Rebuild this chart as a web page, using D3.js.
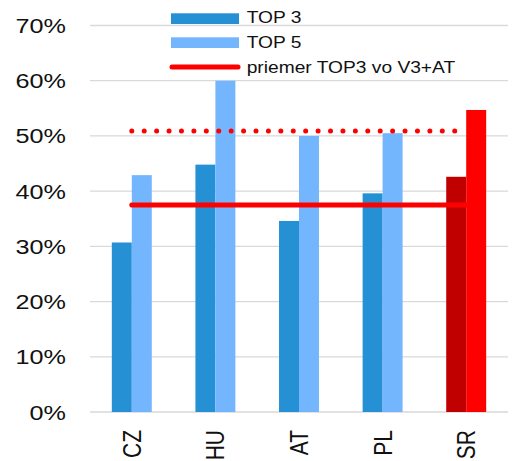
<!DOCTYPE html>
<html>
<head>
<meta charset="utf-8">
<script src="https://cdn.jsdelivr.net/npm/d3@7"></script>
<style>
  html, body { margin: 0; padding: 0; background: #fff; }
  svg { display: block; }
  text { font-family: "Liberation Sans", Arial, Helvetica, sans-serif; fill: #111; }
</style>
</head>
<body>
<svg id="chart" width="515" height="461"></svg>
<script>
// Country codes along the x axis
const categories = ["CZ", "HU", "AT", "PL", "SR"];
// Share of TOP 3 and TOP 5
const top3 = [0.307, 0.448, 0.346, 0.396, 0.426];
const top5 = [0.429, 0.600, 0.500, 0.505, 0.547];
// Reference averages drawn as horizontal lines
const avgTop3 = 0.375;   // priemer TOP3 vo V3+AT (solid)
const avgTop5 = 0.509;   // dotted line
// Y axis ticks
const yTicks = [0, 0.1, 0.2, 0.3, 0.4, 0.5, 0.6, 0.7];
const seriesNames = ["TOP 3", "TOP 5"];
const legendLabels = ["TOP 3", "TOP 5", "priemer TOP3 vo V3+AT"];

const colors = {
  top3: "#2690D4",
  top5: "#74B6FE",
  srTop3: "#C00000",
  srTop5: "#FF0000",
  line: "#FF0000",
  grid: "#D9D9D9"
};
const stretch = 1.2; // horizontal text stretch

const svg = d3.select("#chart");
const plotLeft = 90, plotRight = 508, plotTop = 25.5, plotBottom = 412;

const x0 = d3.scaleBand().domain(categories).range([plotLeft, plotRight])
  .paddingInner(0.522).paddingOuter(0.261);
const x1 = d3.scaleBand().domain(seriesNames).range([0, x0.bandwidth()]);
const y = d3.scaleLinear().domain([0, 0.7]).range([plotBottom, plotTop]);

// Gridlines
svg.append("g").selectAll("line").data(yTicks).join("line")
  .attr("x1", plotLeft).attr("x2", plotRight)
  .attr("y1", d => y(d)).attr("y2", d => y(d))
  .attr("stroke", colors.grid).attr("stroke-width", 1.3);

// Y tick labels
svg.append("g").selectAll("text").data(yTicks).join("text")
  .attr("transform", d => `translate(66,${y(d)}) scale(${stretch},1)`)
  .attr("text-anchor", "end")
  .attr("dy", "0.36em")
  .style("font-size", "21px")
  .text(d => d3.format(".0%")(d));

// Bars
const rows = categories.map((c, i) => ({ c, vals: [top3[i], top5[i]] }));
const groups = svg.append("g").selectAll("g").data(rows).join("g")
  .attr("transform", d => `translate(${x0(d.c)},0)`);
groups.selectAll("rect").data(d => d.vals.map((v, j) => ({ c: d.c, v, s: seriesNames[j], j })))
  .join("rect")
  .attr("x", d => x1(d.s))
  .attr("width", x1.bandwidth())
  .attr("y", d => y(d.v))
  .attr("height", d => y(0) - y(d.v))
  .attr("fill", d => d.c === "SR"
      ? (d.j === 0 ? colors.srTop3 : colors.srTop5)
      : (d.j === 0 ? colors.top3 : colors.top5));

// Average lines spanning first to last category centre
const xStart = x0(categories[0]) + x0.bandwidth() / 2;
const xEnd = x0(categories[categories.length - 1]) + x0.bandwidth() / 2;
svg.append("line")
  .attr("x1", xStart).attr("x2", xEnd)
  .attr("y1", y(avgTop5)).attr("y2", y(avgTop5))
  .attr("stroke", colors.line).attr("stroke-width", 5)
  .attr("stroke-linecap", "round")
  .attr("stroke-dasharray", "0,12.42");
svg.append("line")
  .attr("x1", xStart).attr("x2", xEnd)
  .attr("y1", y(avgTop3)).attr("y2", y(avgTop3))
  .attr("stroke", colors.line).attr("stroke-width", 5)
  .attr("stroke-linecap", "round");

// X labels, rotated
svg.append("g").selectAll("text").data(categories).join("text")
  .attr("transform", d => `translate(${x0(d) + x0.bandwidth() / 2},430) scale(${stretch},1) rotate(-90)`)
  .attr("text-anchor", "end")
  .attr("dy", "0.36em")
  .style("font-size", "21px")
  .text(d => d);

// Legend
const lg = svg.append("g");
lg.append("rect").attr("x", 171).attr("y", 13.3).attr("width", 68).attr("height", 10.7).attr("fill", colors.top3);
lg.append("rect").attr("x", 171).attr("y", 37.3).attr("width", 68).attr("height", 10.7).attr("fill", colors.top5);
lg.append("line").attr("x1", 172).attr("x2", 238).attr("y1", 67).attr("y2", 67)
  .attr("stroke", colors.line).attr("stroke-width", 5).attr("stroke-linecap", "round");
const legendY = [23.3, 48, 73.3];
lg.selectAll("text").data(legendLabels).join("text")
  .attr("transform", (d, i) => `translate(246.7,${legendY[i]}) scale(${stretch},1)`)
  .style("font-size", "16px")
  .text(d => d);
</script>
</body>
</html>
